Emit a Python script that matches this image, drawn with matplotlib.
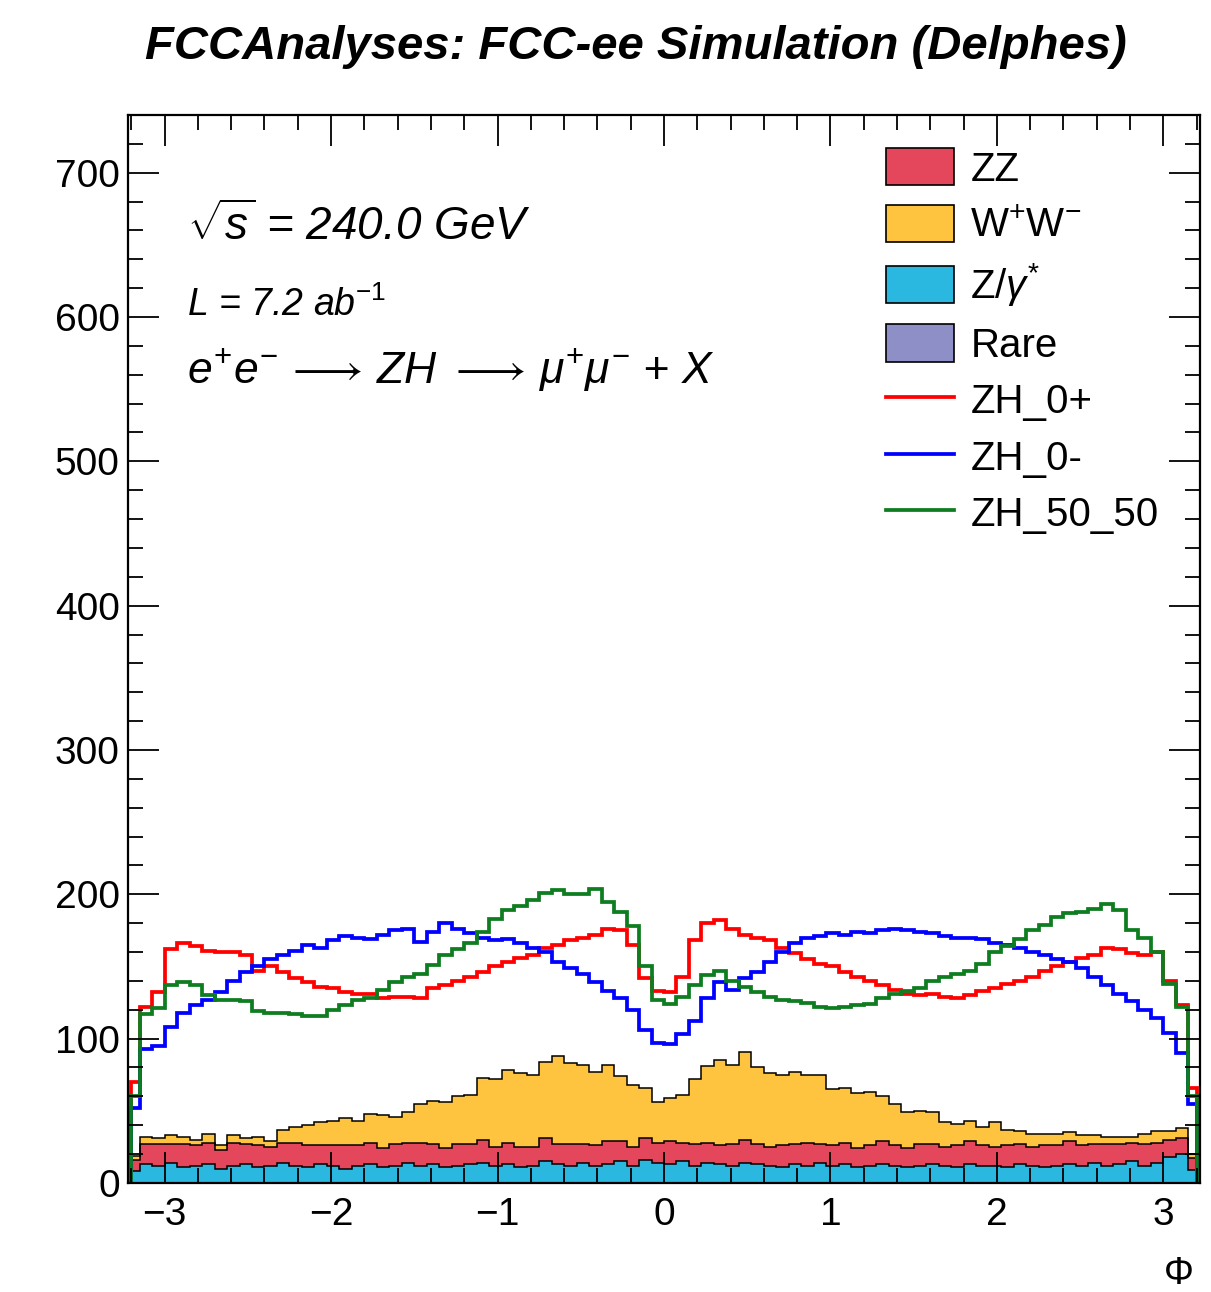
import numpy as np
import matplotlib
matplotlib.use("Agg")
import matplotlib.pyplot as plt
from matplotlib.patches import Patch
from matplotlib.lines import Line2D
from matplotlib.ticker import MultipleLocator

plt.rcParams['font.family'] = ['Liberation Sans', 'DejaVu Sans']
plt.rcParams['mathtext.fontset'] = 'custom'
plt.rcParams['mathtext.rm'] = 'Liberation Sans'
plt.rcParams['mathtext.it'] = 'Liberation Sans:italic'
plt.rcParams['mathtext.bf'] = 'Liberation Sans:bold'

# ---------------- data (per bin, edge bins first/last) ----------------
zgamma_vals = [8, 13, 12, 14, 11, 12, 13, 10, 12, 13,
               11, 12, 14, 12, 11, 13, 12, 10, 12, 13,
               11, 12, 14, 12, 13, 11, 12, 13, 14, 12,
               13, 11, 12, 15, 13, 12, 14, 12, 13, 15,
               12, 16, 14, 13, 15, 12, 14, 13, 12, 14,
               13, 12, 11, 13, 12, 14, 12, 13, 11, 12,
               13, 12, 11, 12, 13, 12, 11, 13, 12, 12,
               11, 13, 12, 11, 12, 13, 12, 14, 12, 13,
               15, 12, 14, 18, 20, 9]
zz_vals = [8, 14, 15, 13, 16, 14, 15, 13, 16, 14,
           15, 13, 14, 16, 15, 13, 14, 16, 14, 15,
           13, 15, 14, 16, 14, 13, 15, 14, 16, 13,
           15, 14, 13, 16, 14, 15, 13, 14, 16, 14,
           13, 15, 14, 16, 13, 15, 14, 13, 15, 16,
           14, 13, 15, 14, 16, 13, 14, 15, 13, 14,
           16, 14, 13, 15, 14, 13, 15, 16, 14, 13,
           15, 14, 13, 15, 14, 16, 14, 13, 15, 14,
           13, 15, 14, 12, 11, 8]
ww_vals = [3, 5, 4, 6, 5, 4, 6, 3, 5, 4, 6,
           4, 9, 11, 14, 16, 17, 19, 17, 20, 23,
           19, 21, 27, 30, 32, 33, 34, 43, 47, 50,
           51, 50, 53, 61, 56, 55, 51, 53, 45, 43,
           35, 28, 30, 33, 45, 53, 59, 55, 61, 53,
           51, 49, 50, 47, 48, 39, 38, 38, 37, 31,
           29, 25, 23, 22, 17, 15, 14, 13, 17, 11,
           9, 9, 8, 8, 6, 7, 6, 5, 5, 4,
           7, 8, 6, 7, 3]
zh_0plus = [70, 122, 132, 162, 166, 164, 161, 160, 160, 158, 147,
            150, 146, 142, 139, 136, 135, 132, 131, 131, 128,
            129, 129, 128, 135, 137, 140, 143, 146, 150, 153,
            156, 158, 163, 165, 168, 170, 172, 176, 175, 165,
            142, 133, 132, 143, 168, 180, 182, 176, 172, 170,
            168, 163, 159, 155, 152, 150, 146, 143, 140, 137,
            134, 131, 130, 131, 129, 128, 130, 133, 135, 138,
            140, 143, 147, 150, 153, 156, 158, 163, 162, 159,
            158, 160, 140, 123, 66]
zh_0minus = [52, 93, 95, 108, 118, 123, 127, 132, 140, 146, 150,
             155, 158, 161, 165, 163, 168, 171, 170, 169, 172,
             175, 176, 167, 174, 180, 176, 173, 170, 168, 169,
             166, 163, 160, 153, 149, 145, 139, 133, 128, 120,
             106, 97, 96, 103, 112, 128, 139, 134, 142, 146,
             153, 160, 166, 170, 171, 173, 172, 174, 173, 175,
             176, 175, 174, 173, 171, 170, 170, 169, 166, 165,
             163, 160, 158, 155, 153, 149, 143, 137, 131, 126,
             120, 114, 104, 90, 55]
zh_50_50 = [60, 117, 121, 137, 139, 137, 130, 127, 127, 126, 119,
            118, 118, 117, 116, 116, 120, 123, 127, 128, 134,
            139, 143, 145, 151, 158, 162, 166, 174, 183, 189,
            192, 196, 201, 203, 200, 200, 204, 195, 188, 178,
            150, 127, 124, 129, 137, 144, 147, 140, 136, 132,
            129, 127, 126, 125, 122, 121, 122, 123, 124, 128,
            131, 133, 135, 140, 143, 145, 147, 152, 160, 164,
            169, 175, 179, 184, 187, 188, 190, 193, 189, 175,
            170, 160, 138, 122, 60]

x_major_ticks = [-3, -2, -1, 0, 1, 2, 3]
y_major_ticks = [0, 100, 200, 300, 400, 500, 600, 700]
legend_labels = ["ZZ", r"W$^{+}$W$^{-}$", r"Z/$\gamma^{*}$", "Rare",
                 "ZH_0+", "ZH_0-", "ZH_50_50"]

# ---------------- styles ----------------
c_zz = '#e4465c'
c_ww = '#ffc43f'
c_zg = '#2ab7e0'
c_rare = '#8e8fc6'
c_red = '#ff0000'
c_blue = '#0000ff'
c_green = '#0d7d20'
lw_sig = 2.7

edges = np.concatenate(([-3.2], np.linspace(-3.15, 3.15, 85), [3.2]))

fig = plt.figure(figsize=(12.11, 12.92), dpi=100)
ax = fig.add_axes([0.1057, 0.0844, 0.8852, 0.8266])

zg = np.array(zgamma_vals, dtype=float)
zz = np.array(zz_vals, dtype=float)
ww = np.array(ww_vals, dtype=float)
b0 = zg
b1 = zg + zz
b2 = b1 + ww

ax.stairs(b0, edges, baseline=0, fill=True, color=c_zg, lw=0)
ax.stairs(b1, edges, baseline=b0, fill=True, color=c_zz, lw=0)
ax.stairs(b2, edges, baseline=b1, fill=True, color=c_ww, lw=0)
for top in (b0, b1, b2):
    ax.stairs(top, edges, baseline=0, color='black', lw=1.1)

ax.stairs(zh_0plus, edges, baseline=0, color=c_red, lw=lw_sig)
ax.stairs(zh_0minus, edges, baseline=0, color=c_blue, lw=lw_sig)
ax.stairs(zh_50_50, edges, baseline=0, color=c_green, lw=lw_sig)

ax.set_xlim(-3.22, 3.22)
ax.set_ylim(0, 740)
ax.set_xticks(x_major_ticks)
ax.set_yticks(y_major_ticks)
ax.xaxis.set_minor_locator(MultipleLocator(0.2))
ax.yaxis.set_minor_locator(MultipleLocator(20))
ax.tick_params(which='both', direction='in', top=True, right=True, width=1.3,
               labelsize=28, colors='black')
ax.tick_params(which='major', length=22)
ax.tick_params(which='minor', length=11)
ax.tick_params(axis='x', which='major', pad=10)
ax.tick_params(axis='y', which='major', pad=6)
for s in ax.spines.values():
    s.set_linewidth(1.6)

ax.set_xlabel(r"$\Phi$", fontsize=27)
ax.xaxis.set_label_coords(0.993, -0.068)
ax.xaxis.label.set_horizontalalignment('right')

fig.text(0.525, 0.964, "FCCAnalyses: FCC-ee Simulation (Delphes)",
         ha='center', va='center', fontsize=34, fontweight='bold', style='italic')

ax.text(0.055, 0.895, r"$\sqrt{s}$ = 240.0 GeV", transform=ax.transAxes,
        fontsize=33, style='italic', va='center')
ax.text(0.055, 0.822, r"$L$ = 7.2 ab$^{-1}$", transform=ax.transAxes,
        fontsize=27, style='italic', va='center')
ax.text(0.055, 0.762,
        r"$e^{+}e^{-}\,\longrightarrow\,ZH\ \longrightarrow\,\mu^{+}\mu^{-}$ + $X$",
        transform=ax.transAxes, fontsize=32, style='italic', va='center')

handles = [Patch(facecolor=c_zz, edgecolor='black', lw=1.2),
           Patch(facecolor=c_ww, edgecolor='black', lw=1.2),
           Patch(facecolor=c_zg, edgecolor='black', lw=1.2),
           Patch(facecolor=c_rare, edgecolor='black', lw=1.2),
           Line2D([], [], color=c_red, lw=lw_sig),
           Line2D([], [], color=c_blue, lw=lw_sig),
           Line2D([], [], color=c_green, lw=lw_sig)]
leg = ax.legend(handles, legend_labels, loc='upper left',
                bbox_to_anchor=(0.707, 0.969), frameon=False, fontsize=29,
                handlelength=1.7, handleheight=1.05, handletextpad=0.4,
                labelspacing=0.40, borderpad=0, borderaxespad=0)

fig.savefig("out.png", dpi=100, facecolor='white')
